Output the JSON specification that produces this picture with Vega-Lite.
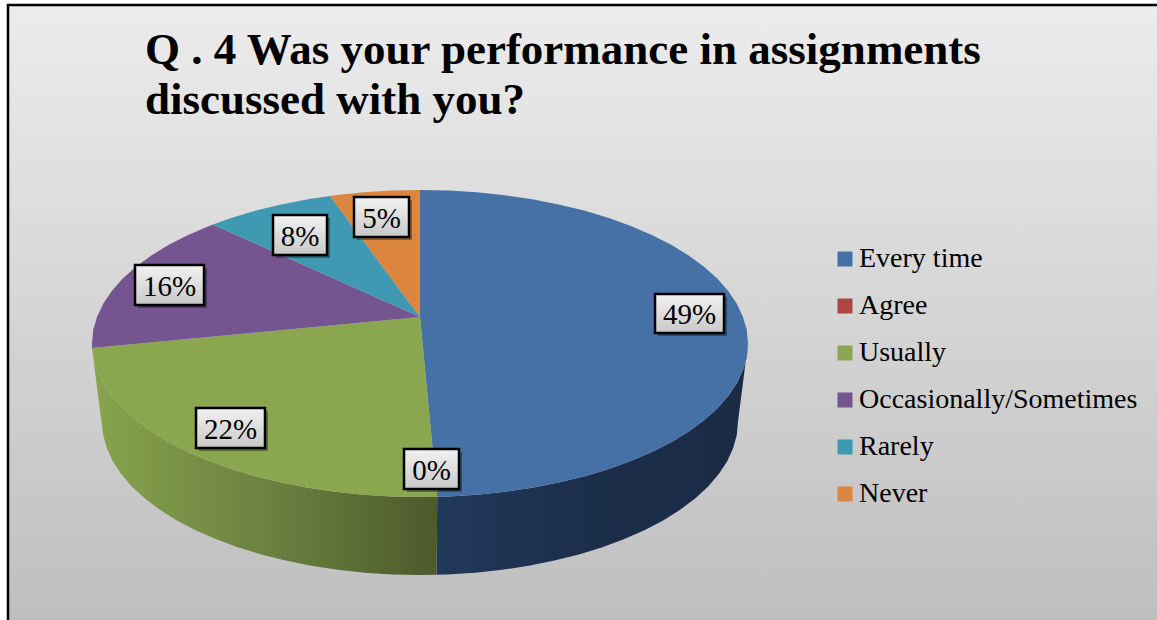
{"$schema":"https://vega.github.io/schema/vega-lite/v6.json","width":1157,"height":620,"padding":0,"autosize":"none","background":"white","view":{"stroke":null},
"title":{"text":["Q . 4 Was your performance in assignments","discussed with you?"],"anchor":"start","frame":"group","dx":145,"dy":95,"offset":-28,"baseline":"top","font":"Liberation Serif","fontSize":45,"fontWeight":"bold","lineHeight":50,"color":"black"},
"datasets":{
"frame":[{"x":8,"x2":1175,"y":5,"y2":640}],
"wall":[
{"part":"Every time","i":90,"x":748,"y":343.5},{"part":"Every time","i":95,"x":746.8,"y":356.9},{"part":"Every time","i":100,"x":743,"y":370.1},{"part":"Every time","i":105,"x":736.8,"y":383.2},{"part":"Every time","i":110,"x":728.2,"y":396},{"part":"Every time","i":115,"x":717.3,"y":408.4},{"part":"Every time","i":120,"x":704,"y":420.3},{"part":"Every time","i":125,"x":688.7,"y":431.5},{"part":"Every time","i":130,"x":671.2,"y":442.2},{"part":"Every time","i":135,"x":651.9,"y":452},{"part":"Every time","i":140,"x":630.8,"y":461.1},{"part":"Every time","i":145,"x":608.1,"y":469.2},{"part":"Every time","i":150,"x":584,"y":476.4},{"part":"Every time","i":155,"x":558.6,"y":482.6},{"part":"Every time","i":160,"x":532.2,"y":487.7},{"part":"Every time","i":165,"x":504.9,"y":491.8},{"part":"Every time","i":170,"x":476.9,"y":494.7},{"part":"Every time","i":175,"x":448.6,"y":496.4},{"part":"Every time","i":177,"x":437.2,"y":496.8},
{"part":"Every time","i":823,"x":436.6,"y":574.8},{"part":"Every time","i":825,"x":447.7,"y":574.4},{"part":"Every time","i":830,"x":475.2,"y":572.7},{"part":"Every time","i":835,"x":502.3,"y":569.8},{"part":"Every time","i":840,"x":528.8,"y":565.7},{"part":"Every time","i":845,"x":554.4,"y":560.6},{"part":"Every time","i":850,"x":579,"y":554.4},{"part":"Every time","i":855,"x":602.4,"y":547.2},{"part":"Every time","i":860,"x":624.4,"y":539.1},{"part":"Every time","i":865,"x":644.9,"y":530},{"part":"Every time","i":870,"x":663.6,"y":520.2},{"part":"Every time","i":875,"x":680.5,"y":509.5},{"part":"Every time","i":880,"x":695.4,"y":498.3},{"part":"Every time","i":885,"x":708.2,"y":486.4},{"part":"Every time","i":890,"x":718.8,"y":474},{"part":"Every time","i":895,"x":727.2,"y":461.2},{"part":"Every time","i":900,"x":733.2,"y":448.1},{"part":"Every time","i":905,"x":736.8,"y":434.9},{"part":"Every time","i":910,"x":738,"y":421.5}],
"wall2":[
{"part":"Usually","i":177,"x":437.2,"y":496.8},{"part":"Usually","i":180,"x":420,"y":497},{"part":"Usually","i":185,"x":391.4,"y":496.4},{"part":"Usually","i":190,"x":363.1,"y":494.7},{"part":"Usually","i":195,"x":335.1,"y":491.8},{"part":"Usually","i":200,"x":307.8,"y":487.7},{"part":"Usually","i":205,"x":281.4,"y":482.6},{"part":"Usually","i":210,"x":256,"y":476.4},{"part":"Usually","i":215,"x":231.9,"y":469.2},{"part":"Usually","i":220,"x":209.2,"y":461.1},{"part":"Usually","i":225,"x":188.1,"y":452},{"part":"Usually","i":230,"x":168.8,"y":442.2},{"part":"Usually","i":235,"x":151.3,"y":431.5},{"part":"Usually","i":240,"x":136,"y":420.3},{"part":"Usually","i":245,"x":122.7,"y":408.4},{"part":"Usually","i":250,"x":111.8,"y":396},{"part":"Usually","i":255,"x":103.2,"y":383.2},{"part":"Usually","i":260,"x":97,"y":370.1},{"part":"Usually","i":265,"x":93.2,"y":356.9},{"part":"Usually","i":268,"x":92,"y":348},
{"part":"Usually","i":732,"x":102,"y":426},{"part":"Usually","i":735,"x":103.2,"y":434.9},{"part":"Usually","i":740,"x":106.8,"y":448.1},{"part":"Usually","i":745,"x":112.8,"y":461.2},{"part":"Usually","i":750,"x":121.2,"y":474},{"part":"Usually","i":755,"x":131.8,"y":486.4},{"part":"Usually","i":760,"x":144.6,"y":498.3},{"part":"Usually","i":765,"x":159.5,"y":509.5},{"part":"Usually","i":770,"x":176.4,"y":520.2},{"part":"Usually","i":775,"x":195.1,"y":530},{"part":"Usually","i":780,"x":215.6,"y":539.1},{"part":"Usually","i":785,"x":237.6,"y":547.2},{"part":"Usually","i":790,"x":261,"y":554.4},{"part":"Usually","i":795,"x":285.6,"y":560.6},{"part":"Usually","i":800,"x":311.2,"y":565.7},{"part":"Usually","i":805,"x":337.7,"y":569.8},{"part":"Usually","i":810,"x":364.8,"y":572.7},{"part":"Usually","i":815,"x":392.3,"y":574.4},{"part":"Usually","i":820,"x":420,"y":575},{"part":"Usually","i":823,"x":436.6,"y":574.8}],
"top":[
{"answer":"Every time","i":-1,"x":420,"y":317},{"answer":"Every time","i":0,"x":420,"y":190},{"answer":"Every time","i":5,"x":448.6,"y":190.6},{"answer":"Every time","i":10,"x":476.9,"y":192.3},{"answer":"Every time","i":15,"x":504.9,"y":195.2},{"answer":"Every time","i":20,"x":532.2,"y":199.3},{"answer":"Every time","i":25,"x":558.6,"y":204.4},{"answer":"Every time","i":30,"x":584,"y":210.6},{"answer":"Every time","i":35,"x":608.1,"y":217.8},{"answer":"Every time","i":40,"x":630.8,"y":225.9},{"answer":"Every time","i":45,"x":651.9,"y":235},{"answer":"Every time","i":50,"x":671.2,"y":244.8},{"answer":"Every time","i":55,"x":688.7,"y":255.5},{"answer":"Every time","i":60,"x":704,"y":266.8},{"answer":"Every time","i":65,"x":717.3,"y":278.6},{"answer":"Every time","i":70,"x":728.2,"y":291},{"answer":"Every time","i":75,"x":736.8,"y":303.8},{"answer":"Every time","i":80,"x":743,"y":316.9},{"answer":"Every time","i":85,"x":746.8,"y":330.1},{"answer":"Every time","i":90,"x":748,"y":343.5},{"answer":"Every time","i":95,"x":746.8,"y":356.9},{"answer":"Every time","i":100,"x":743,"y":370.1},{"answer":"Every time","i":105,"x":736.8,"y":383.2},{"answer":"Every time","i":110,"x":728.2,"y":396},{"answer":"Every time","i":115,"x":717.3,"y":408.4},{"answer":"Every time","i":120,"x":704,"y":420.3},{"answer":"Every time","i":125,"x":688.7,"y":431.5},{"answer":"Every time","i":130,"x":671.2,"y":442.2},{"answer":"Every time","i":135,"x":651.9,"y":452},{"answer":"Every time","i":140,"x":630.8,"y":461.1},{"answer":"Every time","i":145,"x":608.1,"y":469.2},{"answer":"Every time","i":150,"x":584,"y":476.4},{"answer":"Every time","i":155,"x":558.6,"y":482.6},{"answer":"Every time","i":160,"x":532.2,"y":487.7},{"answer":"Every time","i":165,"x":504.9,"y":491.8},{"answer":"Every time","i":170,"x":476.9,"y":494.7},{"answer":"Every time","i":175,"x":448.6,"y":496.4},{"answer":"Every time","i":177,"x":437.2,"y":496.8},
{"answer":"Usually","i":-1,"x":420,"y":317},{"answer":"Usually","i":177,"x":437.2,"y":496.8},{"answer":"Usually","i":180,"x":420,"y":497},{"answer":"Usually","i":185,"x":391.4,"y":496.4},{"answer":"Usually","i":190,"x":363.1,"y":494.7},{"answer":"Usually","i":195,"x":335.1,"y":491.8},{"answer":"Usually","i":200,"x":307.8,"y":487.7},{"answer":"Usually","i":205,"x":281.4,"y":482.6},{"answer":"Usually","i":210,"x":256,"y":476.4},{"answer":"Usually","i":215,"x":231.9,"y":469.2},{"answer":"Usually","i":220,"x":209.2,"y":461.1},{"answer":"Usually","i":225,"x":188.1,"y":452},{"answer":"Usually","i":230,"x":168.8,"y":442.2},{"answer":"Usually","i":235,"x":151.3,"y":431.5},{"answer":"Usually","i":240,"x":136,"y":420.3},{"answer":"Usually","i":245,"x":122.7,"y":408.4},{"answer":"Usually","i":250,"x":111.8,"y":396},{"answer":"Usually","i":255,"x":103.2,"y":383.2},{"answer":"Usually","i":260,"x":97,"y":370.1},{"answer":"Usually","i":265,"x":93.2,"y":356.9},{"answer":"Usually","i":268,"x":92,"y":348},
{"answer":"Occasionally/Sometimes","i":-1,"x":420,"y":317},{"answer":"Occasionally/Sometimes","i":268,"x":92,"y":348},{"answer":"Occasionally/Sometimes","i":270,"x":92,"y":343.5},{"answer":"Occasionally/Sometimes","i":275,"x":93.2,"y":330.1},{"answer":"Occasionally/Sometimes","i":280,"x":97,"y":316.9},{"answer":"Occasionally/Sometimes","i":285,"x":103.2,"y":303.8},{"answer":"Occasionally/Sometimes","i":290,"x":111.8,"y":291},{"answer":"Occasionally/Sometimes","i":295,"x":122.7,"y":278.6},{"answer":"Occasionally/Sometimes","i":300,"x":136,"y":266.8},{"answer":"Occasionally/Sometimes","i":305,"x":151.3,"y":255.5},{"answer":"Occasionally/Sometimes","i":310,"x":168.8,"y":244.8},{"answer":"Occasionally/Sometimes","i":315,"x":188.1,"y":235},{"answer":"Occasionally/Sometimes","i":320,"x":209.2,"y":225.9},{"answer":"Occasionally/Sometimes","i":321,"x":213,"y":224.5},
{"answer":"Rarely","i":-1,"x":420,"y":317},{"answer":"Rarely","i":321,"x":213,"y":224.5},{"answer":"Rarely","i":325,"x":231.9,"y":217.8},{"answer":"Rarely","i":330,"x":256,"y":210.6},{"answer":"Rarely","i":335,"x":281.4,"y":204.4},{"answer":"Rarely","i":340,"x":307.8,"y":199.3},{"answer":"Rarely","i":344,"x":330,"y":196},
{"answer":"Never","i":-1,"x":420,"y":317},{"answer":"Never","i":344,"x":330,"y":196},{"answer":"Never","i":345,"x":335.1,"y":195.2},{"answer":"Never","i":350,"x":363.1,"y":192.3},{"answer":"Never","i":355,"x":391.4,"y":190.6},{"answer":"Never","i":360,"x":420,"y":190}],
"labels":[
{"answer":"Every time","share":0.49,"x":655,"x2":724,"y":294,"y2":333,"cx":689.5,"cy":315},
{"answer":"Agree","share":0,"x":404,"x2":459,"y":449,"y2":489,"cx":431.5,"cy":471},
{"answer":"Usually","share":0.22,"x":196,"x2":265,"y":408,"y2":448,"cx":230.5,"cy":430},
{"answer":"Occasionally/Sometimes","share":0.16,"x":135,"x2":204,"y":265,"y2":305,"cx":169.5,"cy":287},
{"answer":"Rarely","share":0.08,"x":273,"x2":327,"y":215,"y2":255,"cx":300,"cy":237},
{"answer":"Never","share":0.05,"x":354,"x2":409,"y":197,"y2":237,"cx":381.5,"cy":219}]
},
"encoding":{
"x":{"field":"x","type":"quantitative","axis":null,"scale":{"domain":[0,1157],"nice":false,"zero":false}},
"y":{"field":"y","type":"quantitative","axis":null,"scale":{"domain":[620,0],"nice":false,"zero":false}}
},
"layer":[
{"data":{"name":"frame"},"mark":{"type":"rect","clip":true,"stroke":"black","strokeWidth":2.5,"fill":{"gradient":"linear","x1":0,"y1":0,"x2":0,"y2":1,"stops":[{"offset":0,"color":"#ececec"},{"offset":1,"color":"#bdbdbd"}]}},"encoding":{"x2":{"field":"x2"},"y2":{"field":"y2"}}},
{"data":{"name":"wall"},"mark":{"type":"line","strokeWidth":0,"fill":{"gradient":"linear","x1":0,"y1":0,"x2":1,"y2":0,"stops":[{"offset":0,"color":"#22395b"},{"offset":0.5,"color":"#1b2e4a"},{"offset":1,"color":"#1a2b45"}]}},"encoding":{"detail":{"field":"part"},"order":{"field":"i"}}},
{"data":{"name":"wall2"},"mark":{"type":"line","strokeWidth":0,"fill":{"gradient":"linear","x1":0,"y1":0,"x2":1,"y2":0,"stops":[{"offset":0,"color":"#88a44d"},{"offset":0.5,"color":"#6b8240"},{"offset":1,"color":"#4d5a2c"}]}},"encoding":{"detail":{"field":"part"},"order":{"field":"i"}}},
{"data":{"name":"top"},"mark":{"type":"line","strokeWidth":0},"encoding":{"order":{"field":"i"},
"fill":{"field":"answer","type":"nominal","scale":{"domain":["Every time","Agree","Usually","Occasionally/Sometimes","Rarely","Never"],"range":["#4671a7","#ab4643","#8aa64f","#745590","#4099b3","#dc853e"]},
"legend":{"title":null,"orient":"none","legendX":831,"legendY":245,"symbolType":"square","symbolSize":225,"symbolStrokeWidth":0,"labelFont":"Liberation Serif","labelFontSize":28,"labelColor":"black","labelOffset":0,"rowPadding":19,"labelLimit":400,"padding":0}}}},
{"data":{"name":"labels"},"mark":{"type":"rect","color":"black","opacity":0.35,"xOffset":3,"x2Offset":3,"yOffset":3,"y2Offset":3},"encoding":{"x2":{"field":"x2"},"y2":{"field":"y2"}}},
{"data":{"name":"labels"},"mark":{"type":"rect","stroke":"black","strokeWidth":2.5,"fill":{"gradient":"linear","x1":0,"y1":0,"x2":0,"y2":1,"stops":[{"offset":0,"color":"#f2f2f2"},{"offset":1,"color":"#c8c8c8"}]}},"encoding":{"x2":{"field":"x2"},"y2":{"field":"y2"}}},
{"data":{"name":"labels"},"mark":{"type":"text","font":"Liberation Serif","fontSize":29,"color":"black","baseline":"middle","align":"center"},"encoding":{"x":{"field":"cx","type":"quantitative","axis":null},"y":{"field":"cy","type":"quantitative","axis":null},"text":{"field":"share","type":"quantitative","format":".0%"}}}
]}
